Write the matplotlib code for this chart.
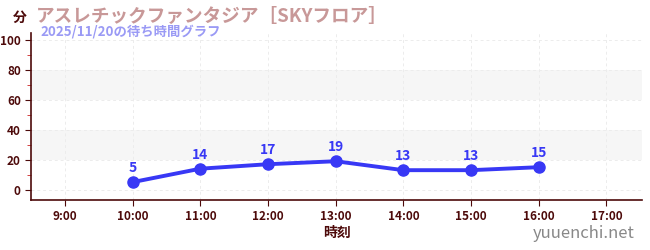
import matplotlib
matplotlib.use("Agg")
import matplotlib.pyplot as plt

plt.rcParams['font.family'] = ['Noto Sans CJK JP', 'DejaVu Sans']

hours = [10, 11, 12, 13, 14, 15, 16]
waits = [5, 14, 17, 19, 13, 13, 15]
xtick_hours = [9, 10, 11, 12, 13, 14, 15, 16, 17]
xtick_labels = [f"{h}:00" for h in xtick_hours]
yticks = [0, 20, 40, 60, 80, 100]

title = "アスレチックファンタジア［SKYフロア］"
subtitle = "2025/11/20の待ち時間グラフ"

maroon = "#4d0a0a"
blue = "#3838f5"

fig = plt.figure(figsize=(6.5, 2.5), dpi=100)
ax = fig.add_axes([0.048, 0.2, 0.94, 0.668])

ax.set_xlim(8.5, 17.53)
ax.set_ylim(-7, 105)

for lo, hi in [(20, 40), (60, 80)]:
    ax.axhspan(lo, hi, color="#f6f6f6", zorder=0, lw=0)

ax.grid(True, which='major', linestyle=(0, (3, 3)), color="#ececec", lw=0.7, zorder=0.5)

ax.plot(hours, waits, color=blue, lw=2.8, marker='o', ms=8, zorder=3)
for h, w in zip(hours, waits):
    ax.annotate(str(w), (h, w), xytext=(0, 5), textcoords='offset points',
                ha='center', va='bottom', color=blue, fontsize=10, fontweight='bold')

ax.set_xticks(xtick_hours)
ax.set_xticklabels(xtick_labels)
ax.set_yticks(yticks)
ax.set_yticks([10, 30, 50, 70, 90], minor=True)
ax.tick_params(axis='both', which='major', colors=maroon, labelsize=8.5, length=4)
ax.tick_params(axis='y', which='minor', colors="#cc2222", length=3)
for lab in ax.get_xticklabels() + ax.get_yticklabels():
    lab.set_fontweight('bold')

for s in ['top', 'right']:
    ax.spines[s].set_visible(False)
for s in ['left', 'bottom']:
    ax.spines[s].set_color(maroon)
    ax.spines[s].set_linewidth(1.2)

ax.set_xlabel("時刻", color=maroon, fontsize=10, fontweight='bold', labelpad=2)

fig.text(0.031, 0.93, "分", color=maroon, fontsize=10, fontweight='bold', ha='center', va='center')
fig.text(0.055, 0.935, title, color="#c89898", fontsize=13.4, fontweight='bold', ha='left', va='center')
fig.text(0.063, 0.872, subtitle, color="#9a9af5", fontsize=9.6, fontweight='bold', ha='left', va='center')
fig.text(0.977, 0.065, "yuuenchi.net", color="#888888", fontsize=12, ha='right', va='center')

fig.savefig("out.png", dpi=100)
